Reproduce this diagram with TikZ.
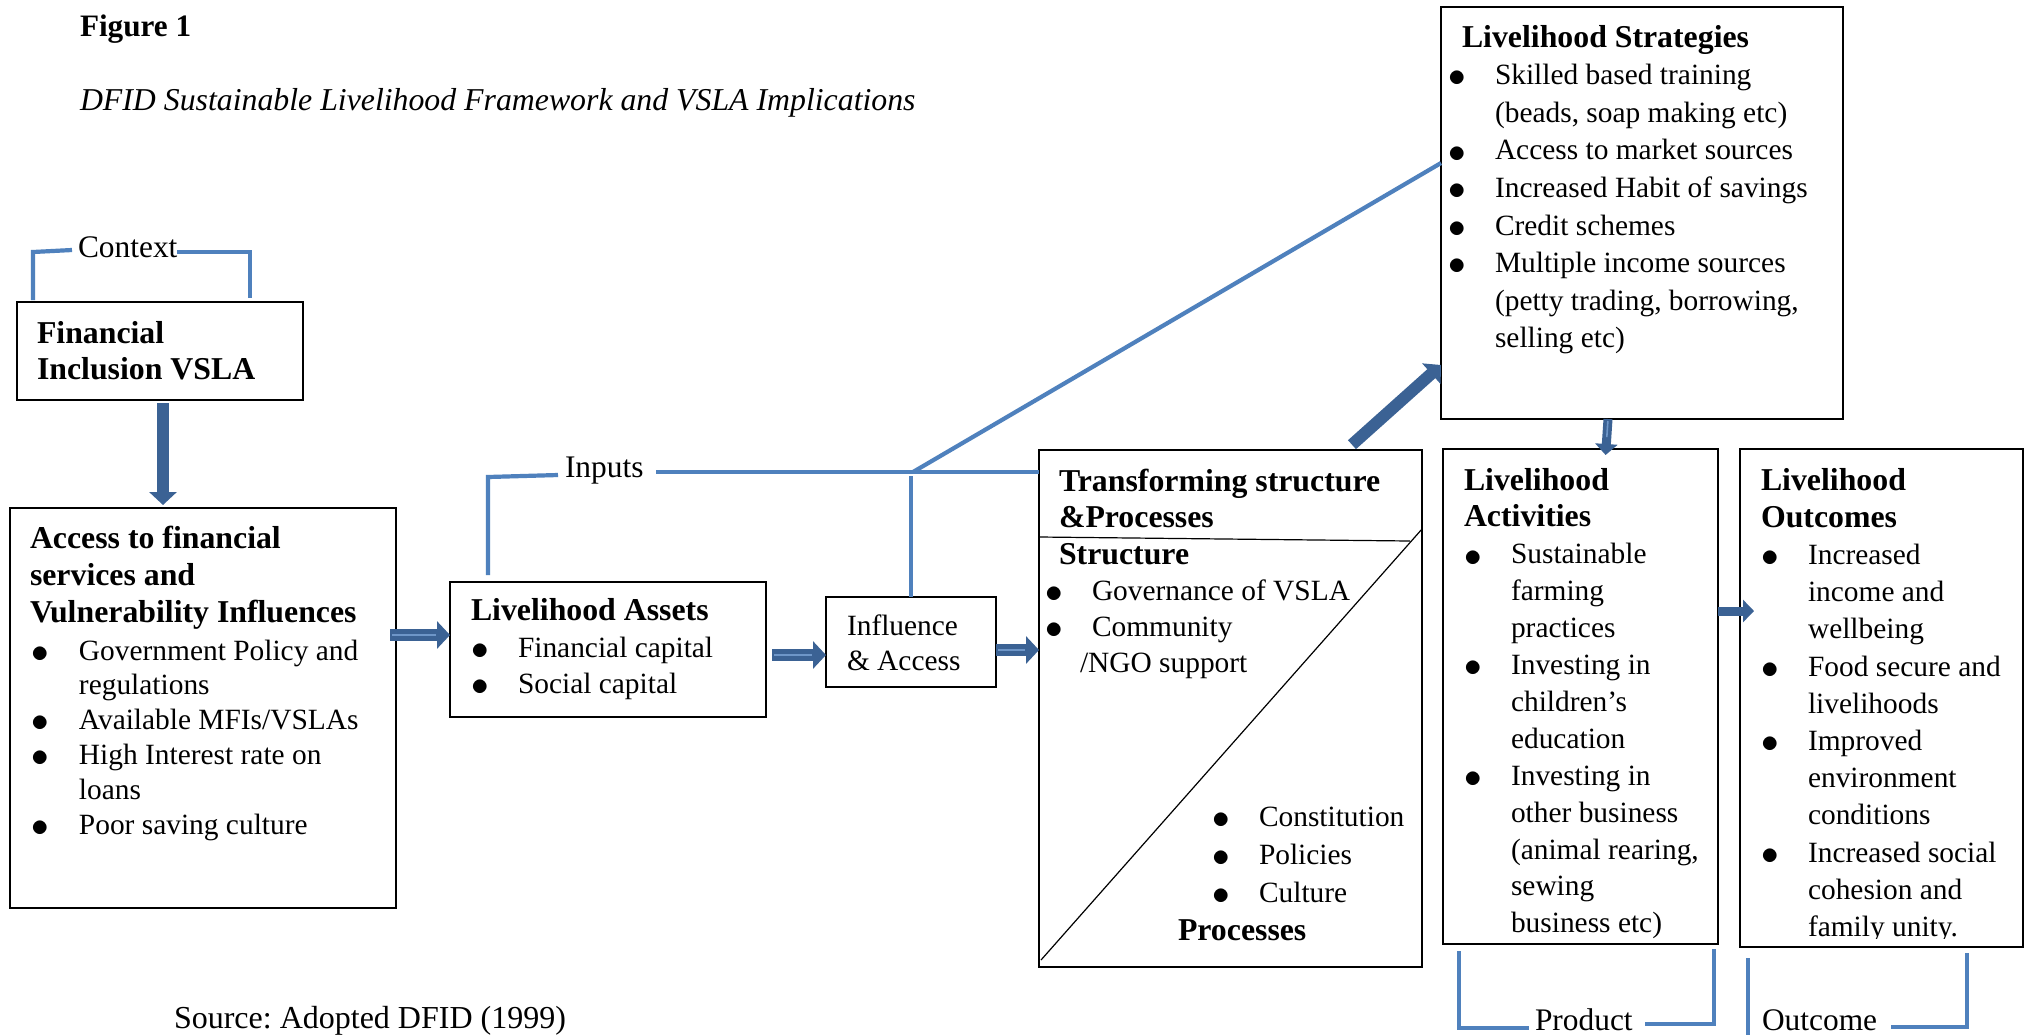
\documentclass[tikz,border=0pt]{standalone}
\usepackage{fontspec}
\setmainfont{Liberation Serif}
\usetikzlibrary{arrows.meta}
\definecolor{lineblue}{RGB}{79,129,189}
\definecolor{arrowblue}{RGB}{59,98,148}
\definecolor{stripeblue}{RGB}{110,150,200}
\newcommand{\rgf}[1]{\fontsize{14.7}{#1}\selectfont}
\newcommand{\bdf}[1]{\fontsize{15.9}{#1}\selectfont\bfseries}
\newcommand{\lblf}{\fontsize{15.7}{18}\selectfont}
\newcommand{\bl}{\makebox[23.5pt][l]{\raisebox{-1.1pt}{\scalebox{1.22}{$\bullet$}}}}
\newcommand{\ttl}[1]{\multicolumn{2}{@{}l@{}}{\bdf{18}#1}}
\frenchspacing
\begin{document}
\begin{tikzpicture}[x=0.5pt,y=-0.5pt,
  box/.style={draw=black, line width=0.9pt, inner sep=0pt, outer sep=0pt, anchor=north west},
  txt/.style={inner sep=0pt, outer sep=0pt, anchor=base west},
  bline/.style={draw=lineblue, line width=2.1pt},
  thinl/.style={draw=black, line width=0.6pt},
  fat/.style={draw=arrowblue, line width=6pt, -{Triangle[width=13.5pt,length=6.5pt]}},
  fatsmall/.style={draw=arrowblue, line width=4.5pt, -{Triangle[width=11pt,length=5.5pt]}},
  stripe/.style={draw=stripeblue, line width=0.8pt}]
\useasboundingbox (0,0) rectangle (2033,1035);
\fill[white] (0,0) rectangle (2033,1035);

% boxes
\node[box, minimum width=143pt, minimum height=49pt] (fin) at (17,302) {};
\node[box, minimum width=193pt, minimum height=200pt] (acc) at (10,508) {};
\node[box, minimum width=158pt, minimum height=67.5pt] (la) at (450,582) {};
\node[box, minimum width=85pt, minimum height=45pt] (infl) at (826,597) {};
\node[box, minimum width=191.5pt, minimum height=258.5pt] (trans) at (1039,450) {};
\node[box, minimum width=201pt, minimum height=206pt] (strat) at (1441,7) {};
\node[box, minimum width=137.5pt, minimum height=247.5pt] (act) at (1443,449) {};
\node[box, minimum width=141.5pt, minimum height=249pt] (out) at (1740,449) {};

% transforming box internal lines
\draw[thinl] (1040,537) -- (1410,541);
\draw[thinl] (1041,960) -- (1422,529);

% headings
\node[txt] (fig) at (80,36) {\fontsize{15.6}{18}\selectfont\bfseries Figure 1};
\node[txt] (sub) at (80,110) {\fontsize{15.9}{18}\selectfont\itshape DFID Sustainable Livelihood Framework and VSLA Implications};
\node[txt] (src) at (174,1028) {\fontsize{16}{18}\selectfont Source: Adopted DFID (1999)};

% labels
\node[txt] (ctx) at (78,257) {\lblf Context};
\node[txt] (inp) at (565,477) {\lblf Inputs};
\node[txt] (prod) at (1535,1030) {\lblf Product};
\node[txt] (outc) at (1762,1030) {\lblf Outcome};

% financial inclusion
\node[txt] (fint) at (37,343) {\bdf{18}\begin{tabular}[t]{@{}l@{}}Financial\\Inclusion VSLA\end{tabular}};

% access
\node[txt] (acct) at (30,548) {\bdf{18.5}\begin{tabular}[t]{@{}l@{}}Access to financial\\services and\\Vulnerability Influences\end{tabular}};
\node[txt] (accl) at (32,660) {\rgf{17.4}\begin{tabular}[t]{@{}l@{}l@{}}
\bl & Government Policy and\\
 & regulations\\
\bl & Available MFIs/VSLAs\\
\bl & High Interest rate on\\
 & loans\\
\bl & Poor saving culture
\end{tabular}};

% livelihood assets
\node[txt] (lat) at (471,620) {\bdf{18}Livelihood Assets};
\node[txt] (lal) at (471,657) {\rgf{18}\begin{tabular}[t]{@{}l@{}l@{}}
\bl & Financial capital\\
\bl & Social capital
\end{tabular}};

% influence
\node[txt] (inflt) at (847,635) {\rgf{17.5}\begin{tabular}[t]{@{}l@{}}Influence\\\& Access\end{tabular}};

% transforming
\node[txt] (trt) at (1059,491) {\bdf{18}\begin{tabular}[t]{@{}l@{}}Transforming structure\\\&Processes\end{tabular}};
\node[txt] (trl) at (1045,564) {\rgf{18}\begin{tabular}[t]{@{}l@{}l@{}}
\multicolumn{2}{@{}l@{}}{\hspace*{7pt}\bdf{18}Structure}\\
\bl & Governance of VSLA\\
\bl & Community\\
\multicolumn{2}{@{}l@{}}{\hspace*{17.5pt}/NGO support}
\end{tabular}};
\node[txt] (trp) at (1212,826) {\rgf{19}\begin{tabular}[t]{@{}l@{}l@{}}
\bl & Constitution\\
\bl & Policies\\
\bl & Culture\\
\multicolumn{2}{@{}l@{}}{\hspace*{-17pt}\bdf{18}Processes}
\end{tabular}};

% strategies
\node[txt] (stl) at (1448,47) {\rgf{18.8}\begin{tabular}[t]{@{}l@{}l@{}}
\multicolumn{2}{@{}l@{}}{\hspace*{7pt}\bdf{18}Livelihood Strategies}\\
\bl & Skilled based training\\
 & (beads, soap making etc)\\
\bl & Access to market sources\\
\bl & Increased Habit of savings\\
\bl & Credit schemes\\
\bl & Multiple income sources\\
 & (petty trading, borrowing,\\
 & selling etc)
\end{tabular}};

% activities
\node[txt] (actl) at (1464,490) {\rgf{18.45}\begin{tabular}[t]{@{}l@{}l@{}}
\ttl{Livelihood}\\
\ttl{Activities}\\
\bl & Sustainable\\
 & farming\\
 & practices\\
\bl & Investing in\\
 & children’s\\
 & education\\
\bl & Investing in\\
 & other business\\
 & (animal rearing,\\
 & sewing\\
 & business etc)
\end{tabular}};

% outcomes
\begin{scope}
\clip (1741,450) rectangle (2022,938);
\node[txt] (outl) at (1761,490) {\rgf{18.6}\begin{tabular}[t]{@{}l@{}l@{}}
\ttl{Livelihood}\\
\ttl{Outcomes}\\
\bl & Increased\\
 & income and\\
 & wellbeing\\
\bl & Food secure and\\
 & livelihoods\\
\bl & Improved\\
 & environment\\
 & conditions\\
\bl & Increased social\\
 & cohesion and\\
 & family unity.
\end{tabular}};
\end{scope}

% thick arrows
\draw[fat, shorten <=1.5pt, shorten >=1.5pt] (fin.south -| 163,0) -- (acc.north -| 163,0);
\draw[fat, shorten <=-3pt] (acc.east |- 0,635) -- (la.west |- 0,635);
\draw[stripe, shorten <=-2pt, shorten >=7pt] (acc.east |- 0,635) -- (la.west |- 0,635);
\draw[fat, shorten <=3pt] (la.east |- 0,655) -- (infl.west |- 0,655);
\draw[stripe, shorten <=4pt, shorten >=7pt] (la.east |- 0,655) -- (infl.west |- 0,655);
\draw[fat] (infl.east |- 0,650) -- (trans.west |- 0,650);
\draw[stripe, shorten <=1pt, shorten >=7pt] (infl.east |- 0,650) -- (trans.west |- 0,650);
\draw[fat, shorten <=4pt] (trans.north -| 1346,0) -- (strat.west |- 0,365);
\draw[fatsmall, shorten >=-3pt] (strat.south -| 1608,0) -- (act.north -| 1606,0);
\draw[stripe, shorten <=1pt, shorten >=6pt] (strat.south -| 1608,0) -- (act.north -| 1606,0);
\draw[fatsmall, shorten >=-7pt] (act.east |- 0,611) -- (out.west |- 0,611);

% context bracket
\coordinate (cx1) at (33,300);
\coordinate (cx2) at (33,252);
\coordinate (cx3) at (72,250);
\coordinate (cx4) at (177,252);
\coordinate (cx5) at (250,252);
\coordinate (cx6) at (250,298);
\draw[bline] (cx1) -- (cx2) -- (cx3);
\draw[bline] (cx4) -- (cx5) -- (cx6);

% inputs lines
\coordinate (ib1) at (488,575);
\coordinate (ib2) at (488,477);
\coordinate (ib3) at (558,475);
\coordinate (ib4) at (656,472);
\coordinate (jn) at (913,472);
\draw[bline] (ib1) -- (ib2) -- (ib3);
\draw[bline] (ib4) -- (jn) -- (trans.west |- jn);
\draw[bline] (jn) -- (strat.west |- 0,163);
\draw[bline] (infl.north) -- (infl.north |- 0,476);

% product bracket
\coordinate (pb1) at (1459,951);
\coordinate (pb2) at (1459,1028);
\coordinate (pb3) at (1529,1028);
\coordinate (pb4) at (1645,1024);
\coordinate (pb5) at (1714,1024);
\coordinate (pb6) at (1714,949);
\draw[bline] (pb1) -- (pb2) -- (pb3);
\draw[bline] (pb4) -- (pb5) -- (pb6);

% outcome bracket
\coordinate (ob1) at (1748,958);
\coordinate (ob2) at (1748,1035);
\coordinate (ob4) at (1891,1027);
\coordinate (ob5) at (1967,1027);
\coordinate (ob6) at (1967,953);
\draw[bline] (ob1) -- (ob2);
\draw[bline] (ob4) -- (ob5) -- (ob6);
\end{tikzpicture}
\end{document}
